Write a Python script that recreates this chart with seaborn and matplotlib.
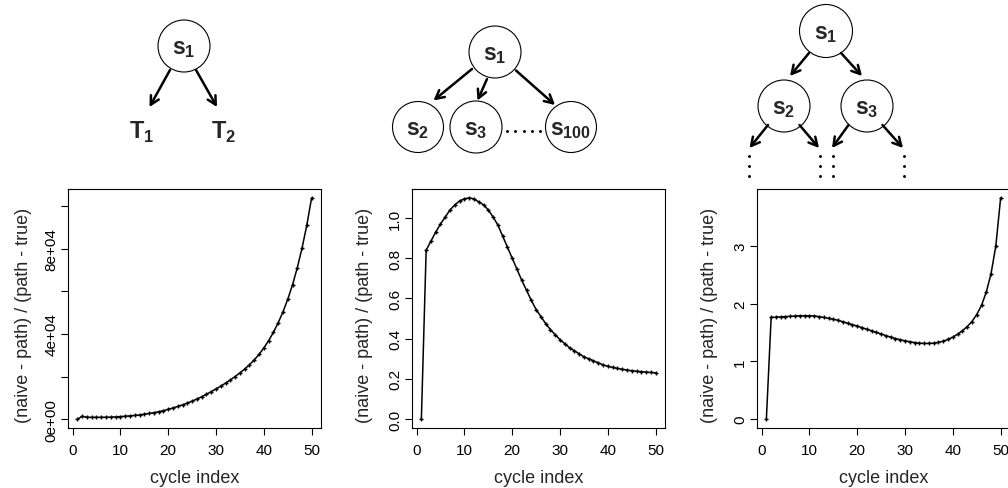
import numpy as np
import pandas as pd
import matplotlib
matplotlib.use("Agg")
import matplotlib.pyplot as plt
from matplotlib.patches import Circle
import seaborn as sns

# ---------------- data ----------------
cycles = list(range(1, 51))

ratio_two_terminals = [
    0, 1300, 900, 850, 850, 870, 900, 950, 1050, 1200,
    1350, 1550, 1750, 2000, 2300, 2650, 3050, 3500, 4000, 4600,
    5250, 5950, 6700, 7550, 8450, 9450, 10500, 11650, 12900, 14200,
    15500, 16900, 18400, 20000, 21700, 23500, 25500, 27800, 30400, 33400,
    36800, 40700, 45200, 50300, 56200, 63000, 71000, 80300, 91100, 103800,
]

ratio_wide_tree = [
    0.0, 0.84, 0.885, 0.93, 0.97, 1.005, 1.04, 1.065, 1.085, 1.095,
    1.10, 1.095, 1.08, 1.065, 1.04, 1.005, 0.965, 0.91, 0.855, 0.80,
    0.745, 0.69, 0.64, 0.59, 0.545, 0.51, 0.475, 0.445, 0.42, 0.395,
    0.375, 0.355, 0.34, 0.325, 0.31, 0.30, 0.29, 0.28, 0.27, 0.263,
    0.257, 0.252, 0.248, 0.244, 0.241, 0.238, 0.236, 0.234, 0.232, 0.23,
]

ratio_binary_tree = [
    0.0, 1.76, 1.765, 1.77, 1.775, 1.78, 1.785, 1.79, 1.79, 1.79,
    1.785, 1.775, 1.76, 1.745, 1.73, 1.71, 1.685, 1.66, 1.635, 1.61,
    1.585, 1.555, 1.53, 1.50, 1.475, 1.445, 1.42, 1.395, 1.375, 1.355,
    1.34, 1.325, 1.315, 1.31, 1.31, 1.315, 1.33, 1.35, 1.38, 1.42,
    1.47, 1.53, 1.60, 1.69, 1.81, 1.97, 2.20, 2.52, 3.00, 3.83,
]

x_ticks = [0, 10, 20, 30, 40, 50]
y_ticks_1 = [0, 20000, 40000, 60000, 80000, 100000]
y_labels_1 = ["0e+00", "", "4e+04", "", "8e+04", ""]
y_ticks_2 = [0.0, 0.2, 0.4, 0.6, 0.8, 1.0]
y_labels_2 = ["0.0", "0.2", "0.4", "0.6", "0.8", "1.0"]
y_ticks_3 = [0, 1, 2, 3]
y_labels_3 = ["0", "1", "2", "3"]

x_label = "cycle index"
y_label = "(naive - path) / (path - true)"

# ---------------- style ----------------
sns.set_style("ticks")
plt.rcParams["font.family"] = ["Liberation Sans", "DejaVu Sans"]
plt.rcParams["mathtext.fontset"] = "custom"
plt.rcParams["mathtext.bf"] = "Liberation Sans:bold"
plt.rcParams["mathtext.rm"] = "Liberation Sans"
plt.rcParams["axes.linewidth"] = 0.8

fig = plt.figure(figsize=(10.08, 4.89), dpi=100)
W, H = 1008, 489

def rng(v):
    lo, hi = min(v), max(v)
    e = 0.04 * (hi - lo)
    return lo - e, hi + e

panels = [
    (68, ratio_two_terminals, y_ticks_1, y_labels_1, -0.143),
    (412, ratio_wide_tree, y_ticks_2, y_labels_2, -0.154),
    (757, ratio_binary_tree, y_ticks_3, y_labels_3, -0.154),
]
ax_w, top, bot = 253, 190, 429

for left, vals, yt, yl, ylx in panels:
    ax = fig.add_axes([left / W, (H - bot) / H, ax_w / W, (bot - top) / H])
    df = pd.DataFrame({"cycle": cycles, "ratio": vals})
    sns.lineplot(data=df, x="cycle", y="ratio", ax=ax, color="black",
                 linewidth=1.1, marker="+", markersize=3.5,
                 markeredgewidth=1.0, markeredgecolor="black")
    ax.set_xlim(*rng(cycles))
    ax.set_ylim(*rng(vals))
    ax.set_xticks(x_ticks)
    ax.set_xticklabels([str(t) for t in x_ticks])
    ax.set_yticks(yt)
    ax.set_yticklabels(yl, rotation=90, va="center")
    ax.tick_params(axis="both", direction="out", length=5, width=0.8,
                   labelsize=11, colors="black")
    ax.tick_params(axis="x", pad=6)
    ax.tick_params(axis="y", pad=2)
    for s in ax.spines.values():
        s.set_visible(True)
        s.set_color("black")
        s.set_linewidth(0.8)
    ax.set_xlabel(x_label, fontsize=13)
    ax.set_ylabel(y_label, fontsize=13)
    ax.xaxis.set_label_coords(0.5, -0.173)
    ax.yaxis.set_label_coords(ylx, 0.475)

# ---------------- tree diagrams (overlay in pixel coordinates) ----------------
ov = fig.add_axes([0, 0, 1, 1], zorder=5)
ov.set_xlim(0, W)
ov.set_ylim(H, 0)
ov.axis("off")
ov.patch.set_alpha(0)

def node(x, y, label, r=26):
    ov.add_patch(Circle((x, y), r, facecolor="white", edgecolor="black",
                        linewidth=0.8, zorder=2))
    ov.text(x, y + 1.5, label, ha="center", va="center", fontsize=16.5,
            zorder=3)

def arrow(x0, y0, x1, y1):
    ov.annotate("", xy=(x1, y1), xytext=(x0, y0),
                arrowprops=dict(arrowstyle="->,head_length=0.6,head_width=0.32",
                                lw=1.8, color="black",
                                shrinkA=0, shrinkB=0), zorder=4)

def s(n):
    return r"$\mathbf{s}_{\mathbf{%s}}$" % n

# panel 1
node(184, 47, s(1))
arrow(170, 71, 149.5, 108)
arrow(196, 71, 217, 108)
ov.text(142, 132, r"$\mathbf{T}_{\mathbf{1}}$", ha="center", va="center", fontsize=17)
ov.text(224, 132, r"$\mathbf{T}_{\mathbf{2}}$", ha="center", va="center", fontsize=17)

# panel 2
node(495, 53, s(1))
node(418, 128, s(2), r=25.5)
node(476, 128, s(3), r=26)
node(571, 128, s(100), r=25.5)
arrow(472, 70, 433.5, 101.5)
arrow(487, 80, 477.5, 101.5)
arrow(516, 71.5, 555, 106)
for dx in np.linspace(507, 540, 5):
    ov.plot([dx], [131.5], marker="o", markersize=1.1, color="black")

# panel 3
node(826, 32, s(1), r=26.5)
node(784, 107, s(2), r=26)
node(867, 107, s(3), r=26)
arrow(809, 54, 790, 77)
arrow(841, 54, 862, 77)
arrow(768, 126, 749.5, 149)
arrow(799.5, 126, 819, 149)
arrow(848.5, 126, 832, 149)
arrow(882.5, 126, 903, 149)
for cx in (748.5, 819.5, 833, 903.5):
    for cy in (156.5, 166.5, 176.5):
        ov.plot([cx], [cy], marker="o", markersize=1.1, color="black")

fig.savefig("out.png", dpi=100)
